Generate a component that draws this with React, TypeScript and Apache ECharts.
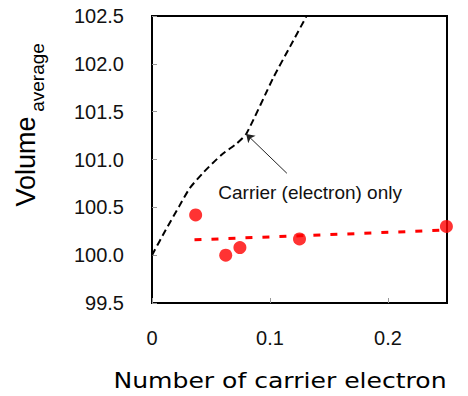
import React, { useEffect, useRef } from "react";
import * as echarts from "echarts";

// Measured points (red circles)
const pointX = [0.037, 0.0625, 0.0745, 0.125, 0.2495];
const pointY = [100.42, 100.0, 100.08, 100.17, 100.3];

// Red dashed fit line
const fitX = [0.036, 0.244];
const fitY = [100.16, 100.26];

// Black dashed "Carrier (electron) only" curve
const carrierX = [0, 0.011, 0.023, 0.032, 0.044, 0.059, 0.072, 0.08, 0.103, 0.117, 0.131];
const carrierY = [100.0, 100.25, 100.51, 100.7, 100.87, 101.05, 101.17, 101.27, 101.86, 102.18, 102.5];

// Annotation arrow (from label to curve) and label anchor, in data units
const arrowFrom = [0.1143, 100.856];
const arrowTo = [0.0798, 101.267];
const labelAt = [0.134, 100.655];
const labelText = "Carrier (electron) only";

const xTitle = "Number of carrier electron";
const yTitleMain = "Volume";
const yTitleSub = "average";

export default function App() {
  const ref = useRef<HTMLDivElement>(null);
  useEffect(() => {
    if (!ref.current) return;
    const chart = echarts.init(ref.current, null, { renderer: "svg" });
    const base: any = {
      animation: false,
      grid: {
        left: 152,
        right: 21,
        top: 16,
        bottom: 93,
        show: true,
        borderColor: "#000",
        borderWidth: 2,
        backgroundColor: "transparent",
      },
      xAxis: {
        type: "value",
        min: 0,
        max: 0.25,
        interval: 0.1,
        splitLine: { show: false },
        axisLine: { show: true, lineStyle: { color: "#000", width: 2 } },
        axisTick: { show: true, inside: true, length: 5, lineStyle: { color: "#999", width: 1 } },
        axisLabel: {
          margin: 25,
          color: "#111",
          fontFamily: "Liberation Sans",
          fontSize: 20,
          showMaxLabel: false,
          formatter: (v: number) => (v === 0 ? "0" : String(Math.round(v * 10) / 10)),
        },
      },
      yAxis: {
        type: "value",
        min: 99.5,
        max: 102.5,
        interval: 0.5,
        splitLine: { show: false },
        axisLine: { show: true, lineStyle: { color: "#000", width: 2 } },
        axisTick: { show: true, inside: true, length: 5, lineStyle: { color: "#999", width: 1 } },
        axisLabel: {
          margin: 28,
          color: "#111",
          fontFamily: "Liberation Sans",
          fontSize: 20,
          formatter: (v: number) => v.toFixed(1),
        },
      },
      series: [
        {
          type: "line",
          data: carrierX.map((x, i) => [x, carrierY[i]]),
          showSymbol: false,
          symbol: "none",
          smooth: 0.2,
          lineStyle: { color: "#000", width: 2, type: [7, 4] },
          z: 2,
        },
        {
          type: "line",
          data: fitX.map((x, i) => [x, fitY[i]]),
          showSymbol: false,
          symbol: "none",
          lineStyle: { color: "#ff0000", width: 3, type: [7, 10] },
          z: 3,
        },
        {
          type: "scatter",
          data: pointX.map((x, i) => [x, pointY[i]]),
          symbol: "circle",
          symbolSize: 13,
          itemStyle: { color: "#ff0000" },
          z: 4,
        },
        {
          type: "lines",
          coordinateSystem: "cartesian2d",
          data: [{ coords: [arrowFrom, arrowTo] }],
          symbol: ["none", "arrow"],
          symbolSize: 8,
          lineStyle: { color: "#222", width: 1, type: "solid", opacity: 1 },
          z: 5,
        },
      ],
    };
    chart.setOption(base);
    const lp = chart.convertToPixel({ gridIndex: 0 }, labelAt) as number[];
    chart.setOption({
      graphic: [
        {
          type: "text",
          x: 26,
          y: 161.5,
          rotation: Math.PI / 2,
          style: {
            text: yTitleMain,
            fontFamily: "Liberation Sans",
            fontSize: 27,
            fill: "#000",
            textAlign: "center",
            textVerticalAlign: "middle",
            align: "center",
            verticalAlign: "middle",
          },
        },
        {
          type: "text",
          x: 37,
          y: 77.5,
          rotation: Math.PI / 2,
          style: {
            text: yTitleSub,
            fontFamily: "Liberation Sans",
            fontSize: 19,
            fill: "#000",
            textAlign: "center",
            textVerticalAlign: "middle",
            align: "center",
            verticalAlign: "middle",
          },
        },
        {
          type: "text",
          x: 280,
          y: 381,
          scaleX: 1.14,
          style: {
            text: xTitle,
            fontFamily: "DejaVu Sans",
            fontSize: 22,
            fill: "#000",
            textAlign: "center",
            textVerticalAlign: "middle",
            align: "center",
            verticalAlign: "middle",
          },
        },
        {
          type: "text",
          x: lp[0],
          y: lp[1],
          style: {
            text: labelText,
            fontFamily: "Liberation Sans",
            fontSize: 19,
            fill: "#111",
            textAlign: "center",
            textVerticalAlign: "middle",
            align: "center",
            verticalAlign: "middle",
          },
        },
      ],
    });
    return () => chart.dispose();
  }, []);
  return (
    <div
      ref={ref}
      style={{ position: "fixed", left: 0, top: 0, width: 468, height: 396, background: "#fff" }}
    />
  );
}
